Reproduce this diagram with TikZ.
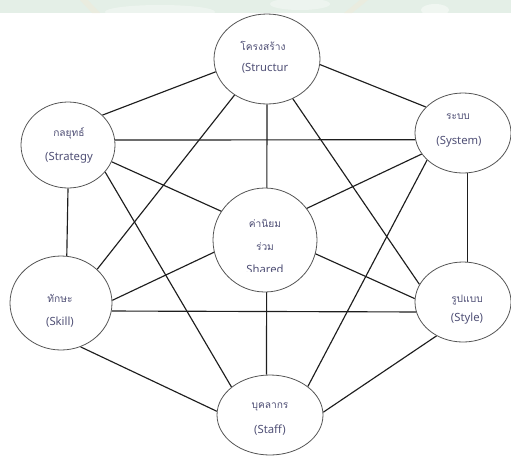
\documentclass[tikz,border=0pt]{standalone}
\usepackage{fontspec}
\setmainfont{Noto Sans}
\newfontfamily\thaifont[Script=Thai]{Loma}
\pgfdeclarelayer{background}
\pgfsetlayers{background,main}
\definecolor{inkline}{RGB}{30,30,30}
\definecolor{ovalline}{RGB}{85,85,85}
\definecolor{labelink}{RGB}{80,80,118}
\definecolor{bandgreen}{RGB}{228,239,231}
\definecolor{bandbeige}{RGB}{238,234,218}
\tikzset{
  oval/.style={ellipse, draw=ovalline, line width=0.8pt, fill=white, inner sep=0pt},
  link/.style={draw=inkline, line width=1.15pt},
  thai/.style={text=labelink, inner sep=0pt, font=\thaifont\fontsize{10.2}{12}\selectfont},
  latin/.style={text=labelink, inner sep=0pt, font=\fontsize{11.3}{13}\selectfont},
}
\usetikzlibrary{shapes.geometric}
\begin{document}
\begin{tikzpicture}[x=1pt,y=-1pt]
\useasboundingbox (0,0) rectangle (511,456);

% faint decorative band along the top edge
\fill[bandgreen] (0,0) rectangle (511,13);
\fill[white,opacity=0.35] (160,12) ellipse [x radius=55, y radius=7];
\fill[white,opacity=0.35] (300,4) ellipse [x radius=30, y radius=6];
\fill[white,opacity=0.45] (435,10) ellipse [x radius=14, y radius=6];
\fill[bandbeige,opacity=0.6] (80,0) -- (88,0) -- (100,13) -- (92,13) -- cycle;
\fill[bandbeige,opacity=0.6] (360,0) -- (368,0) -- (352,13) -- (344,13) -- cycle;

% the seven ovals
\node[oval, minimum width=106pt, minimum height=90pt] (st) at (267,59)  {};
\node[oval, minimum width=94pt,  minimum height=86pt] (sg) at (68,145)  {};
\node[oval, minimum width=96pt,  minimum height=80pt] (sy) at (463,133) {};
\node[oval, minimum width=104pt, minimum height=104pt] (sh) at (265,240) {};
\node[oval, minimum width=102pt, minimum height=94pt] (sk) at (61,303)  {};
\node[oval, minimum width=96pt,  minimum height=80pt] (sv) at (463,302) {};
\node[oval, minimum width=106pt, minimum height=80pt] (sf) at (270,415) {};

% every pair of outer ovals is linked; three links run behind the centre oval
\begin{pgfonlayer}{background}
\draw[link] (st.194) -- (sg.41);
\draw[link] (st.-6)  -- (sy.145);
\draw[link] (st.-90) -- (sf.95);
\draw[link] (st.228) -- (sk.43);
\draw[link] (st.303) -- (sv.158);
\draw[link] (sg.6)   -- (sy.188);
\draw[link] (sg.-21) -- (sv.176);
\draw[link] (sg.-90) -- (sk.83);
\draw[link] (sg.-36) -- (sf.144);
\draw[link] (sy.207) -- (sk.3);
\draw[link] (sy.-84) -- (sv.84);
\draw[link] (sy.217) -- (sf.37);
\draw[link] (sk.-9)  -- (sv.192);
\draw[link] (sk.294) -- (sf.176);
\draw[link] (sv.232) -- (sf.3);
\end{pgfonlayer}

% labels
\node[thai]  (stT) at (263,46)  {โครงสร้าง};
\node[latin] (stL) at (265,68)  {(Structur};
\node[thai]  (sgT) at (69,133)  {กลยุทธ์};
\node[latin] (sgL) at (69,158)  {(Strategy};
\node[thai]  (syT) at (458,117) {ระบบ};
\node[latin] (syL) at (459,142) {(System)};
\node[thai]  (shT) at (265,223) {ค่านิยม};
\node[thai]  (shU) at (265,247) {ร่วม};
\begin{scope}
  \clip (210,180) rectangle (320,271);
  \node[latin, anchor=base] (shL) at (265,273.5) {Shared};
\end{scope}
\node[thai]  (skT) at (60,298)  {ทักษะ};
\node[latin] (skL) at (60,322)  {(Skill)};
\node[thai]  (svT) at (467,300) {รูปแบบ};
\node[latin] (svL) at (467,319) {(Style)};
\node[thai]  (sfT) at (270,407) {บุคลากร};
\node[latin] (sfL) at (270,430) {(Staff)};
\end{tikzpicture}
\end{document}
